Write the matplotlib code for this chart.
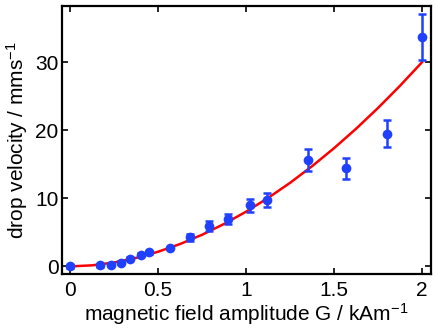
import numpy as np
import matplotlib
matplotlib.use('Agg')
import matplotlib.pyplot as plt

plt.rcParams['font.family'] = ['Liberation Sans', 'DejaVu Sans']
plt.rcParams['mathtext.default'] = 'regular'

# measured drop velocities
G = [0.0, 0.17, 0.23, 0.29, 0.34, 0.40, 0.45, 0.57, 0.68, 0.79, 0.90,
     1.02, 1.12, 1.35, 1.57, 1.80, 2.0]
v = [0.0, 0.15, 0.25, 0.54, 1.13, 1.71, 2.06, 2.69, 4.3, 5.97, 7.0,
     8.96, 9.74, 15.66, 14.44, 19.53, 33.7]
v_err = [0.2, 0.2, 0.2, 0.2, 0.2, 0.2, 0.2, 0.2, 0.5, 0.7, 0.75,
         1.0, 1.0, 1.6, 1.55, 2.0, 3.4]

G_fit = [0.0, 0.125, 0.25, 0.375, 0.5, 0.625, 0.75, 0.875, 1.0, 1.125,
         1.25, 1.375, 1.5, 1.625, 1.75, 1.875, 2.0]
v_fit = [0.0, 0.155, 0.577, 1.247, 2.155, 3.29, 4.65, 6.24, 8.04, 10.06,
         12.28, 14.72, 17.37, 20.22, 23.28, 26.54, 30.0]

xticks = [0, 0.5, 1, 1.5, 2]
xticklabels = ['0', '0.5', '1', '1.5', '2']
yticks = [0, 10, 20, 30]

fig = plt.figure(figsize=(4.36, 3.28), dpi=100)
ax = fig.add_axes([0.142, 0.165, 0.847, 0.817])

blue = '#2040ff'
ax.plot(G_fit, v_fit, '-', color='#ff0000', lw=1.8, zorder=2)
line, caps, bars = ax.errorbar(G, v, yerr=v_err, fmt='o', color=blue, ms=7,
                               elinewidth=1.8, capsize=3.2, capthick=1.8, zorder=3)
line.set_markeredgewidth(0)

ax.set_xlim(-0.047, 2.053)
ax.set_ylim(-1.1, 38.3)
ax.set_xticks(xticks)
ax.set_xticklabels(xticklabels)
ax.set_yticks(yticks)
ax.tick_params(direction='in', top=True, right=True, length=4, width=1.2,
               labelsize=15)
ax.tick_params(axis='x', pad=5)
ax.tick_params(axis='y', pad=2.5)
for s in ax.spines.values():
    s.set_linewidth(1.6)

ax.set_xlabel('magnetic field amplitude G / kAm$^{-1}$', fontsize=15, labelpad=1)
ax.set_ylabel('drop velocity / mms$^{-1}$', fontsize=15, labelpad=4)

fig.savefig('out.png', dpi=100)
